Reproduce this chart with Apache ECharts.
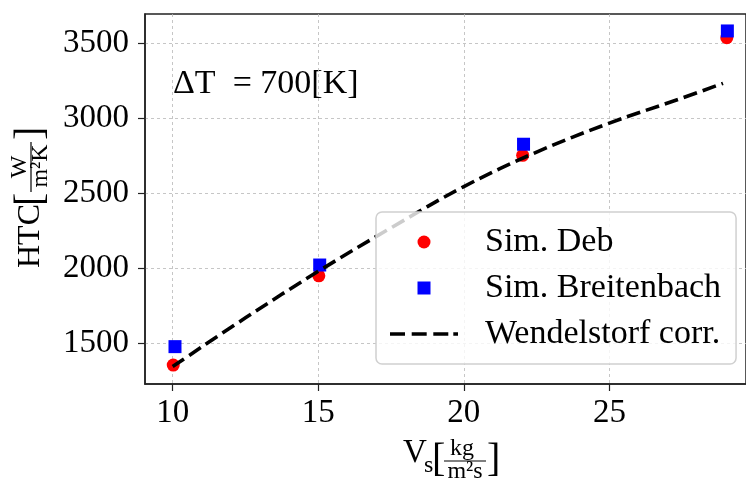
<!DOCTYPE html>
<html>
<head>
<meta charset="utf-8">
<script src="https://cdn.jsdelivr.net/npm/echarts@6/dist/echarts.min.js"></script>
<style>
html, body { margin: 0; padding: 0; background: #fff; }
#main { width: 746px; height: 482px; }
</style>
</head>
<body>
<div id="main"></div>
<script>
// HTC over Vs, dT = 700 K

var debX = [10.02, 15.02, 22.02, 29.03];
var debY = [1355, 1950, 2753, 3537];

var breitX = [10.08, 15.05, 22.05, 29.05];
var breitY = [1478, 2022, 2827, 3582];

// Wendelstorf correlation
var corrX = [10, 12.5, 15, 17.5, 20, 22.5, 25, 27.5, 28.9];
var corrY = [1345, 1670, 1980, 2270, 2545, 2775, 2968, 3135, 3233];

var xTicks = [10, 15, 20, 25];
var yTicks = [1500, 2000, 2500, 3000, 3500];

var FONT = 'Liberation Serif';

function pairs(xs, ys) {
    return xs.map(function (x, i) { return [x, ys[i]]; });
}

var myChart = echarts.init(document.getElementById('main'));

var gridLine = { show: true, lineStyle: { color: '#b8b8b8', width: 0.8, type: [3, 3] } };

// dashed line icon for the legend (matplotlib style dashes)
var dashIcon = 'path://M0,0h15v3.6h-15z M21.7,0h15v3.6h-15z M43.3,0h15v3.6h-15z M63.3,0h4.7v3.6h-4.7z';

var option = {
    animation: false,
    backgroundColor: '#fff',
    grid: {
        left: 145, top: 14, right: -1, bottom: 98,
        show: true, borderColor: '#222', borderWidth: 1.5
    },
    xAxis: {
        type: 'value',
        min: 9.05, max: 29.69,
        axisLine: { lineStyle: { color: '#222', width: 1.5 } },
        axisTick: { length: 7, lineStyle: { color: '#222', width: 1.2 }, customValues: xTicks },
        axisLabel: { customValues: xTicks, margin: 13, fontFamily: FONT, fontSize: 33, color: '#000' },
        splitLine: gridLine
    },
    yAxis: {
        type: 'value',
        min: 1229, max: 3695,
        axisLine: { show: true, lineStyle: { color: '#222', width: 1.5 } },
        axisTick: { show: true, length: 7, lineStyle: { color: '#222', width: 1.2 }, customValues: yTicks },
        axisLabel: {
            customValues: yTicks, margin: 16, fontFamily: FONT, fontSize: 33, color: '#000',
            formatter: function (v) { return String(v); }
        },
        splitLine: gridLine
    },
    legend: {
        orient: 'vertical',
        left: 376, top: 212,
        padding: [13, 15, 13, 14],
        itemWidth: 68, itemHeight: 13, itemGap: 12,
        symbolKeepAspect: true,
        backgroundColor: 'rgba(255,255,255,0.8)',
        borderColor: '#d0d0d0', borderWidth: 1.5, borderRadius: 6,
        textStyle: { fontFamily: FONT, fontSize: 34, color: '#000', padding: [0, 0, 0, 22] },
        data: [
            { name: 'Sim. Deb', icon: 'circle' },
            { name: 'Sim. Breitenbach', icon: 'path://M0,0h1v1h-1z' },
            { name: 'Wendelstorf corr.', icon: dashIcon }
        ]
    },
    graphic: [
        {
            type: 'text', x: 173, y: 84,
            style: { text: 'ΔT  = 700[K]', font: '34px ' + FONT, fill: '#000', verticalAlign: 'middle' }
        },
        // y label: HTC[W / m²K]
        {
            type: 'group', x: 31, y: 200, rotation: Math.PI / 2,
            children: [
                { type: 'text', x: -68, y: 0, style: { text: 'HTC', font: '32px ' + FONT, fill: '#000', verticalAlign: 'middle' } },
                { type: 'text', x: -6, y: 0, style: { text: '[', font: '40px ' + FONT, fill: '#000', verticalAlign: 'middle' } },
                { type: 'text', x: 33, y: -11, style: { text: 'W', font: '24px ' + FONT, fill: '#000', align: 'center', verticalAlign: 'middle' } },
                { type: 'line', shape: { x1: 8, y1: 0, x2: 58, y2: 0 }, style: { stroke: '#000', lineWidth: 1.2 } },
                { type: 'text', x: 34, y: 10, style: { text: 'm²K', font: '24px ' + FONT, fill: '#000', align: 'center', verticalAlign: 'middle' } },
                { type: 'text', x: 60, y: 0, style: { text: ']', font: '40px ' + FONT, fill: '#000', verticalAlign: 'middle' } }
            ]
        },
        // x label: Vs[kg / m²s]
        { type: 'text', x: 403, y: 453, style: { text: 'V', font: '33px ' + FONT, fill: '#000', verticalAlign: 'middle' } },
        { type: 'text', x: 424, y: 466, style: { text: 's', font: '24px ' + FONT, fill: '#000', verticalAlign: 'middle' } },
        { type: 'text', x: 432, y: 460, style: { text: '[', font: '40px ' + FONT, fill: '#000', verticalAlign: 'middle' } },
        { type: 'text', x: 462, y: 449, style: { text: 'kg', font: '24px ' + FONT, fill: '#000', align: 'center', verticalAlign: 'middle' } },
        { type: 'line', shape: { x1: 444, y1: 461, x2: 486, y2: 461 }, style: { stroke: '#000', lineWidth: 1.2 } },
        { type: 'text', x: 465, y: 472, style: { text: 'm²s', font: '24px ' + FONT, fill: '#000', align: 'center', verticalAlign: 'middle' } },
        { type: 'text', x: 487, y: 460, style: { text: ']', font: '40px ' + FONT, fill: '#000', verticalAlign: 'middle' } }
    ],
    series: [
        {
            name: 'Sim. Deb',
            type: 'scatter',
            symbol: 'circle', symbolSize: 13,
            itemStyle: { color: '#ff0000', opacity: 1 },
            data: pairs(debX, debY)
        },
        {
            name: 'Sim. Breitenbach',
            type: 'scatter',
            symbol: 'rect', symbolSize: 13,
            itemStyle: { color: '#0000ff', opacity: 1 },
            data: pairs(breitX, breitY)
        },
        {
            name: 'Wendelstorf corr.',
            type: 'line',
            smooth: 0.35,
            showSymbol: false, symbol: 'none',
            lineStyle: { color: '#000', width: 3.6, type: [14, 6] },
            itemStyle: { color: '#000' },
            data: pairs(corrX, corrY)
        }
    ]
};

myChart.setOption(option);
</script>
</body>
</html>
